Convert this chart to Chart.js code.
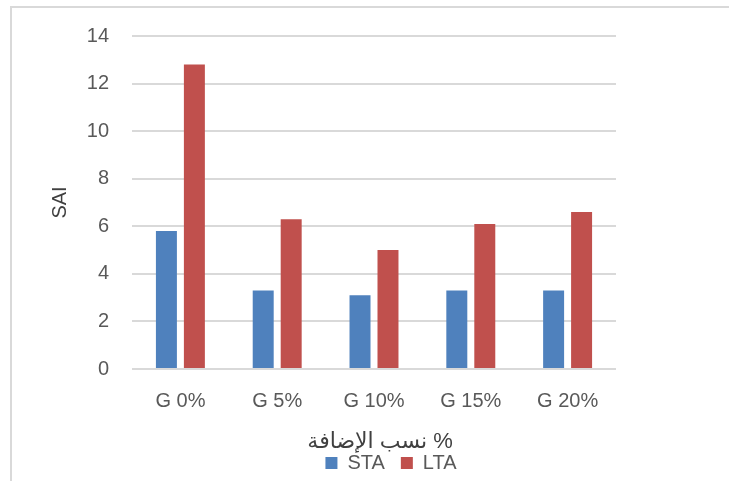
<!DOCTYPE html>
<html lang="ar">
<head>
<meta charset="utf-8">
<title>SAI</title>
<script src="https://cdn.jsdelivr.net/npm/chart.js@4/dist/chart.umd.min.js"></script>
<style>
  html, body { margin: 0; padding: 0; background: #ffffff; }
  #wrap { width: 729px; height: 481px; }
  canvas { display: block; }
</style>
</head>
<body>
<div id="wrap"><canvas id="chart" width="729" height="481"></canvas></div>
<script>
// Mix ratios (category axis)
const categories = ['G 0%', 'G 5%', 'G 10%', 'G 15%', 'G 20%'];
// Series values
const staValues = [5.8, 3.3, 3.1, 3.3, 3.3];
const ltaValues = [12.8, 6.3, 5.0, 6.1, 6.6];
// Value-axis ticks
const yTickValues = [0, 2, 4, 6, 8, 10, 12, 14];
// Text
const yTitle = 'SAI';
const xTitle = 'نسب الإضافة %';
const seriesNames = ['STA', 'LTA'];

const FONT = '"Liberation Sans", "DejaVu Sans", sans-serif';
const GRID = '#d9d9d9';

// White page with a thin grey frame on the left and top edges
const framePlugin = {
  id: 'frame',
  beforeDraw(chart) {
    const ctx = chart.ctx;
    ctx.save();
    ctx.fillStyle = '#ffffff';
    ctx.fillRect(0, 0, chart.width, chart.height);
    ctx.fillStyle = GRID;
    ctx.fillRect(10, 6, 2, chart.height - 6);
    ctx.fillRect(10, 6, chart.width - 10, 2);
    ctx.restore();
  }
};

new Chart(document.getElementById('chart'), {
  type: 'bar',
  data: {
    labels: categories,
    datasets: [
      { label: seriesNames[0], data: staValues, backgroundColor: '#4F81BD', yAxisID: 'y' },
      { label: seriesNames[1], data: ltaValues, backgroundColor: '#C0504D', yAxisID: 'y' }
    ]
  },
  options: {
    responsive: false,
    animation: false,
    devicePixelRatio: 1,
    categoryPercentage: 0.578,
    barPercentage: 0.75,
    layout: { padding: { left: 53, right: 0, top: 36, bottom: -2 } },
    plugins: {
      tooltip: { enabled: false },
      legend: {
        position: 'bottom',
        labels: {
          boxWidth: 12,
          boxHeight: 12,
          padding: 16,
          color: '#595959',
          font: { family: FONT, size: 20 }
        }
      }
    },
    scales: {
      x: {
        afterFit(scale) { scale.height = 68; },
        grid: { display: false, drawTicks: false },
        border: { display: false },
        ticks: { color: '#595959', padding: 20, font: { family: FONT, size: 20 } },
        title: {
          display: true,
          text: '  ' + xTitle,
          color: '#404040',
          font: { family: FONT, size: 22 },
          padding: { top: 0, bottom: -18 }
        }
      },
      y: {
        position: 'left',
        min: 0,
        max: 14,
        afterBuildTicks(scale) { scale.ticks = yTickValues.map(v => ({ value: v })); },
        afterFit(scale) { scale.width = 79; },
        grid: { color: GRID, lineWidth: 2, drawTicks: false },
        border: { display: false },
        ticks: { color: '#595959', padding: 23, font: { family: FONT, size: 20 } },
        title: {
          display: true,
          text: yTitle,
          color: '#404040',
          font: { family: FONT, size: 20 },
          padding: { top: -5, bottom: 0 }
        }
      },
      // empty right-hand margin beside the plot
      yRight: {
        position: 'right',
        display: true,
        afterFit(scale) { scale.width = 113; },
        grid: { display: false, drawTicks: false },
        border: { display: false },
        ticks: { display: false }
      }
    }
  },
  plugins: [framePlugin]
});
</script>
</body>
</html>
